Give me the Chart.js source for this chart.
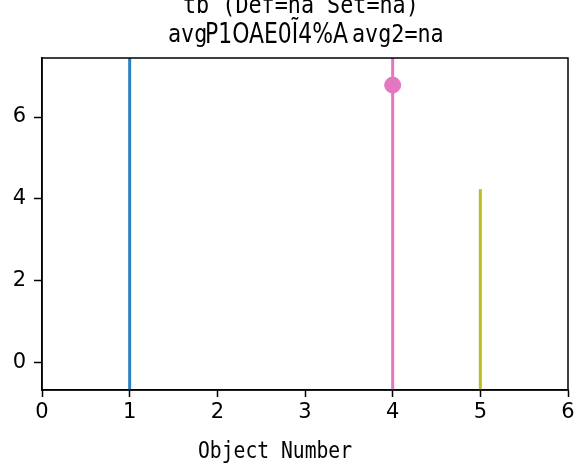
<!DOCTYPE html>
<html>
<head>
<meta charset="utf-8">
<script src="https://cdn.jsdelivr.net/npm/chart.js@4/dist/chart.umd.min.js"></script>
<style>
  body { margin: 0; background: #fff; }
  #c { display: block; }
</style>
</head>
<body>
<canvas id="c" width="579" height="466"></canvas>
<script>
// DATA
const objectNums = [1, 4, 5];
const stemTops = [7.44, 7.44, 4.24];
const stemColors = ["#2a83c0", "#e377c2", "#bcbd22"];
const markerX = [4];
const markerY = [6.78];
const xTicks = [0, 1, 2, 3, 4, 5, 6];
const yTicks = [0, 2, 4, 6];
const Y_MIN = -0.66, Y_MAX = 7.44;

const titleLine1 = "tb (Def=na Set=na)";
const titleLeft = "avg";
const titleRight = "avg2=na";
const titleOverlay = "P1OAE0Ĩ4%A";
const xLabel = "Object Number";

const MONO = "'DejaVu Sans Mono', monospace";
const SANS = "'DejaVu Sans', sans-serif";

// each stem = vertical line from bottom of axis up to its value
const datasets = objectNums.map((x, i) => ({
    type: "line",
    data: [{ x: x, y: Y_MIN }, { x: x, y: stemTops[i] }],
    borderColor: stemColors[i],
    borderWidth: 3,
    pointRadius: 0,
    fill: false
}));

datasets.push({
    type: "scatter",
    data: markerX.map((x, i) => ({ x: x, y: markerY[i] })),
    backgroundColor: "#e377c2",
    borderColor: "#e377c2",
    pointRadius: 8,
    pointHoverRadius: 8
});

// text squeezed to a given advance per char (the original font is narrow)
function narrowText(ctx, text, x, y, size, charW) {
    ctx.save();
    ctx.font = size + "px " + MONO;
    const w = ctx.measureText(text).width;
    const k = (charW * text.length) / w;
    ctx.translate(x, y);
    ctx.scale(k, 1);
    ctx.textAlign = "left";
    ctx.textBaseline = "middle";
    ctx.fillText(text, 0, 0);
    ctx.restore();
}

// frame + title + x label
const framePlugin = {
    id: "frame",
    afterDraw(chart) {
        const { ctx, chartArea: a } = chart;
        ctx.save();
        ctx.strokeStyle = "#000";
        ctx.lineWidth = 1.5;
        ctx.strokeRect(a.left, a.top, a.right - a.left, a.bottom - a.top);
        ctx.fillStyle = "#000";

        narrowText(ctx, titleLine1, 183, 6, 25, 13.1);
        narrowText(ctx, titleLeft, 168, 35, 25, 13.1);
        narrowText(ctx, titleRight, 352, 35, 25, 13.1);
        narrowText(ctx, xLabel, 198, 452, 23, 11.85);

        // overlapping text drawn over the gap, condensed
        ctx.save();
        ctx.translate(205, 36);
        ctx.font = "28px " + SANS;
        ctx.textBaseline = "middle";
        const w = ctx.measureText(titleOverlay).width;
        ctx.scale(143 / w, 1);
        ctx.fillText(titleOverlay, 0, 0);
        ctx.restore();
        ctx.restore();
    }
};

new Chart(document.getElementById("c"), {
    data: { datasets },
    options: {
        responsive: false,
        animation: false,
        events: [],
        layout: { padding: { left: 0, right: 11, top: 58, bottom: 0 } },
        plugins: { legend: { display: false }, tooltip: { enabled: false } },
        scales: {
            x: {
                type: "linear",
                min: 0, max: 6,
                afterBuildTicks: s => { s.ticks = xTicks.map(v => ({ value: v })); },
                afterFit: s => { s.height = 76; },
                grid: { drawOnChartArea: false, drawTicks: true, tickLength: 7, tickColor: "#000", tickWidth: 1.5 },
                border: { color: "#000", width: 1.5 },
                ticks: { color: "#000", font: { family: SANS, size: 21 }, padding: 3, maxRotation: 0 }
            },
            y: {
                type: "linear",
                min: Y_MIN, max: Y_MAX,
                afterBuildTicks: s => { s.ticks = yTicks.map(v => ({ value: v })); },
                afterFit: s => { s.width = 42; },
                grid: { drawOnChartArea: false, drawTicks: true, tickLength: 8, tickColor: "#000", tickWidth: 1.5 },
                border: { color: "#000", width: 1.5 },
                ticks: { color: "#000", font: { family: SANS, size: 21 }, padding: 8 }
            }
        }
    },
    plugins: [framePlugin]
});
</script>
</body>
</html>
